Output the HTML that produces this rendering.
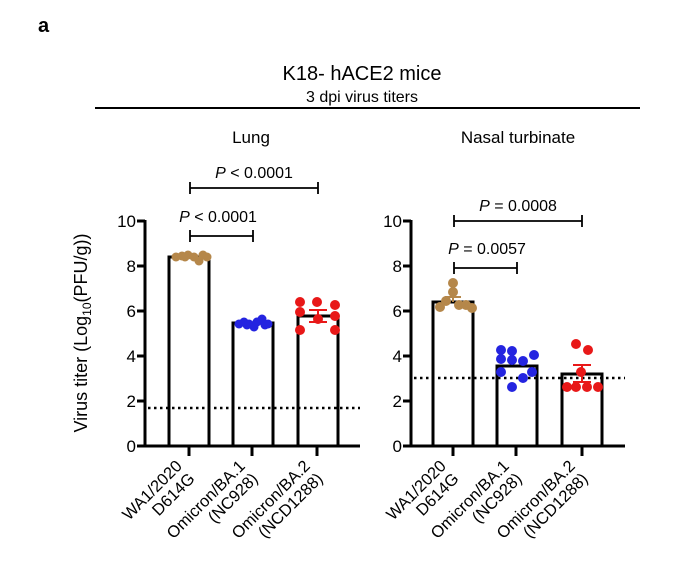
<!DOCTYPE html>
<html><head><style>
body{margin:0;background:#fff}
svg{display:block;font-family:"Liberation Sans",Arial,sans-serif}
</style></head><body>
<svg width="685" height="577" viewBox="0 0 685 577">
<text x="38" y="32" font-size="20" font-weight="bold">a</text>
<text x="362" y="80" font-size="20" text-anchor="middle">K18- hACE2 mice</text>
<text x="362" y="102" font-size="16" text-anchor="middle">3 dpi virus titers</text>
<line x1="95" y1="108" x2="640" y2="108" stroke="#000" stroke-width="2"/>
<text x="251" y="143" font-size="17" text-anchor="middle">Lung</text>
<text x="518" y="143" font-size="17" text-anchor="middle">Nasal turbinate</text>
<text transform="translate(87,333) rotate(-90)" font-size="18" text-anchor="middle">Virus titer (Log<tspan font-size="12" dy="4">10</tspan><tspan dy="-4">(PFU/g))</tspan></text>

<g stroke="#000" stroke-width="3" fill="none">
<line x1="145" y1="220" x2="145" y2="447"/>
<line x1="143" y1="446" x2="360" y2="446"/>
<line x1="137" y1="221" x2="145" y2="221"/><line x1="137" y1="266" x2="145" y2="266"/><line x1="137" y1="311" x2="145" y2="311"/><line x1="137" y1="356" x2="145" y2="356"/><line x1="137" y1="401" x2="145" y2="401"/><line x1="137" y1="446" x2="145" y2="446"/>
<line x1="189" y1="446" x2="189" y2="456"/><line x1="252" y1="446" x2="252" y2="456"/><line x1="317" y1="446" x2="317" y2="456"/>
<rect x="169" y="257" width="40" height="189"/>
<rect x="233" y="323" width="40" height="123"/>
<rect x="298" y="316" width="40" height="130"/>
<line x1="411" y1="220" x2="411" y2="447"/>
<line x1="409" y1="446" x2="625" y2="446"/>
<line x1="403" y1="221" x2="411" y2="221"/><line x1="403" y1="266" x2="411" y2="266"/><line x1="403" y1="311" x2="411" y2="311"/><line x1="403" y1="356" x2="411" y2="356"/><line x1="403" y1="401" x2="411" y2="401"/><line x1="403" y1="446" x2="411" y2="446"/>
<line x1="453" y1="446" x2="453" y2="456"/><line x1="516" y1="446" x2="516" y2="456"/><line x1="582" y1="446" x2="582" y2="456"/>
<rect x="433" y="302" width="40" height="144"/>
<rect x="497" y="366" width="40" height="80"/>
<rect x="562" y="374" width="40" height="72"/>
</g>
<g stroke="#000" stroke-width="2.5" stroke-dasharray="2.5,3.5">
<line x1="148" y1="408" x2="360" y2="408"/>
<line x1="414" y1="378" x2="625" y2="378"/>
</g>
<g font-size="17" text-anchor="end">
<text x="136" y="227">10</text><text x="136" y="272">8</text><text x="136" y="317">6</text><text x="136" y="362">4</text><text x="136" y="407">2</text><text x="136" y="452">0</text>
<text x="402" y="227">10</text><text x="402" y="272">8</text><text x="402" y="317">6</text><text x="402" y="362">4</text><text x="402" y="407">2</text><text x="402" y="452">0</text>
</g>
<g stroke="#000" stroke-width="1.8">
<line x1="190" y1="188" x2="318" y2="188"/><line x1="190" y1="182" x2="190" y2="194"/><line x1="318" y1="182" x2="318" y2="194"/>
<line x1="190" y1="236" x2="253" y2="236"/><line x1="190" y1="230" x2="190" y2="242"/><line x1="253" y1="230" x2="253" y2="242"/>
<line x1="454" y1="221" x2="582" y2="221"/><line x1="454" y1="215" x2="454" y2="227"/><line x1="582" y1="215" x2="582" y2="227"/>
<line x1="454" y1="268" x2="517" y2="268"/><line x1="454" y1="262" x2="454" y2="274"/><line x1="517" y1="262" x2="517" y2="274"/>
</g>
<g font-size="16" text-anchor="middle">
<text x="254" y="178"><tspan font-style="italic">P</tspan> &lt; 0.0001</text>
<text x="218" y="222"><tspan font-style="italic">P</tspan> &lt; 0.0001</text>
<text x="518" y="211"><tspan font-style="italic">P</tspan> = 0.0008</text>
<text x="487" y="254"><tspan font-style="italic">P</tspan> = 0.0057</text>
</g>
<g fill="#b5874a">
<circle cx="176" cy="257" r="4.5"/><circle cx="182" cy="256" r="4.5"/><circle cx="188" cy="255" r="4.5"/><circle cx="194" cy="257" r="4.5"/><circle cx="199" cy="261" r="4.5"/><circle cx="203" cy="255" r="4.5"/><circle cx="207" cy="257" r="4.5"/><circle cx="185" cy="257" r="4.5"/>
<circle cx="440" cy="307" r="5"/><circle cx="446" cy="301" r="5"/><circle cx="453" cy="283" r="5"/><circle cx="453" cy="292" r="5"/><circle cx="459" cy="305" r="5"/><circle cx="466" cy="305" r="5"/><circle cx="472" cy="308" r="5"/>
</g>
<g fill="#2424e0">
<circle cx="239" cy="324" r="4.5"/><circle cx="244" cy="322" r="4.5"/><circle cx="249" cy="324" r="4.5"/><circle cx="254" cy="327" r="4.5"/><circle cx="257" cy="322" r="4.5"/><circle cx="262" cy="319" r="4.5"/><circle cx="265" cy="325" r="4.5"/><circle cx="268" cy="324" r="4.5"/><circle cx="247" cy="325" r="4.5"/>
<circle cx="501" cy="350" r="5"/><circle cx="512" cy="351" r="5"/><circle cx="534" cy="355" r="5"/><circle cx="501" cy="359" r="5"/><circle cx="512" cy="360" r="5"/><circle cx="523" cy="361" r="5"/><circle cx="501" cy="372" r="5"/><circle cx="532" cy="372" r="5"/><circle cx="523" cy="378" r="5"/><circle cx="512" cy="387" r="5"/>
</g>
<g fill="#e81818">
<circle cx="300" cy="302" r="5"/><circle cx="317" cy="302" r="5"/><circle cx="335" cy="305" r="5"/><circle cx="300" cy="312" r="5"/><circle cx="318" cy="319" r="5"/><circle cx="335" cy="316" r="5"/><circle cx="300" cy="330" r="5"/><circle cx="335" cy="330" r="5"/>
<circle cx="576" cy="344" r="5"/><circle cx="588" cy="350" r="5"/><circle cx="581" cy="372" r="5"/><circle cx="567" cy="387" r="5"/><circle cx="576" cy="387" r="5"/><circle cx="587" cy="387" r="5"/><circle cx="598" cy="387" r="5"/>
</g>
<g stroke="#b5874a" stroke-width="2"><line x1="445" y1="297" x2="461" y2="297"/><line x1="453" y1="297" x2="453" y2="302"/></g>
<g stroke="#e81818" stroke-width="2"><line x1="309" y1="310" x2="327" y2="310"/><line x1="318" y1="310" x2="318" y2="322"/><line x1="309" y1="322" x2="327" y2="322"/>
<line x1="573" y1="365" x2="591" y2="365"/><line x1="582" y1="365" x2="582" y2="382"/><line x1="573" y1="382" x2="591" y2="382"/></g>
<g font-size="16.5" text-anchor="end">
<g transform="translate(183,467) rotate(-45)"><text x="0" y="0">WA1/2020</text><text x="0" y="18">D614G</text></g>
<g transform="translate(246,467) rotate(-45)"><text x="0" y="0">Omicron/BA.1</text><text x="0" y="18">(NC928)</text></g>
<g transform="translate(311,467) rotate(-45)"><text x="0" y="0">Omicron/BA.2</text><text x="0" y="18">(NCD1288)</text></g>
<g transform="translate(447,467) rotate(-45)"><text x="0" y="0">WA1/2020</text><text x="0" y="18">D614G</text></g>
<g transform="translate(510,467) rotate(-45)"><text x="0" y="0">Omicron/BA.1</text><text x="0" y="18">(NC928)</text></g>
<g transform="translate(576,467) rotate(-45)"><text x="0" y="0">Omicron/BA.2</text><text x="0" y="18">(NCD1288)</text></g>
</g>
</svg>
</body></html>
